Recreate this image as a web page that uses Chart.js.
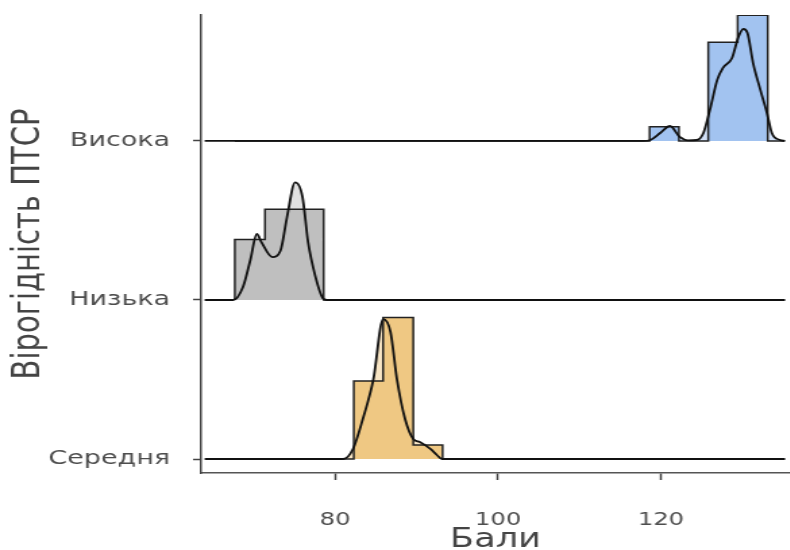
<!DOCTYPE html>
<html>
<head>
<meta charset="utf-8">
<script src="https://cdn.jsdelivr.net/npm/chart.js@4.4.1/dist/chart.umd.min.js"></script>
<style>
  html, body { margin: 0; padding: 0; background: #fff; overflow: hidden; }
  /* the reference is stretched sideways, so the canvas is too */
  #ridges { display: block; transform: scaleX(1.35); transform-origin: 0 0; }
</style>
</head>
<body>
<canvas id="ridges" width="585" height="550"></canvas>
<script>
// groups, bottom to top
var groupLabels = ['Середня', 'Низька', 'Висока'];
var xTicks = [80, 100, 120];

// histograms: bin edges and bar heights (one height per interval)
var highHistEdges = [67.7, 118.6, 122.2, 125.8, 129.4, 133.1, 135.2];
var highHistHeights = [0, 0.09, 0, 0.62, 0.79, 0];
var lowHistEdges = [67.7, 71.4, 78.6, 135.2];
var lowHistHeights = [0.38, 0.57, 0];
var midHistEdges = [67.7, 82.3, 85.9, 89.6, 93.2, 135.2];
var midHistHeights = [0, 0.49, 0.89, 0.088, 0];

// density curves
var highDensX = [64.0, 117.8, 118.7, 119.9, 121.1, 122.3, 123.3, 124.4, 125.2, 126.0, 126.9, 127.6, 128.7, 129.5, 130.1, 130.6, 131.3, 132.2, 133.0, 133.6, 134.6, 135.2];
var highDensY = [0, 0, 0.006, 0.05, 0.094, 0.025, 0.004, 0.006, 0.05, 0.195, 0.384, 0.46, 0.52, 0.654, 0.704, 0.68, 0.49, 0.32, 0.176, 0.05, 0.006, 0];
var lowDensX = [64.0, 67.5, 68.7, 69.6, 70.4, 71.0, 72.3, 73.3, 74.1, 75.1, 76.0, 76.7, 77.6, 78.4, 79.0, 135.2];
var lowDensY = [0, 0, 0.082, 0.25, 0.415, 0.36, 0.27, 0.31, 0.52, 0.74, 0.65, 0.36, 0.145, 0.02, 0, 0];
var midDensX = [64.0, 81.0, 82.2, 83.4, 84.7, 85.9, 86.8, 87.6, 88.6, 89.6, 90.4, 91.7, 92.5, 93.1, 135.2];
var midDensY = [0, 0, 0.063, 0.25, 0.50, 0.88, 0.80, 0.50, 0.25, 0.126, 0.107, 0.063, 0.025, 0, 0];

var barColors = ['#efc883', '#bfbfbf', '#a2c3f0'];
var densColors = ['#f8e5c4', '#e1e1e1', '#d2e1f8'];

function histPoints(edges, heights, base) {
    var pts = [{ x: edges[0], y: base }];
    for (var i = 0; i < heights.length; i++) {
        pts.push({ x: edges[i], y: base + heights[i] });
        pts.push({ x: edges[i + 1], y: base + heights[i] });
    }
    pts.push({ x: edges[edges.length - 1], y: base });
    return pts;
}

function densPoints(xs, ys, base) {
    return xs.map(function (x, i) { return { x: x, y: base + ys[i] }; });
}

var groups = [
    { edges: midHistEdges, heights: midHistHeights, dx: midDensX, dy: midDensY },
    { edges: lowHistEdges, heights: lowHistHeights, dx: lowDensX, dy: lowDensY },
    { edges: highHistEdges, heights: highHistHeights, dx: highDensX, dy: highDensY }
];

var datasets = [];
groups.forEach(function (g, base) {
    // lower ridges are drawn over upper ones
    var o = base * 3;
    datasets.push({
        data: densPoints(g.dx, g.dy, base),
        borderColor: '#111',
        borderWidth: 1.8,
        cubicInterpolationMode: 'monotone',
        fill: false,
        order: o
    });
    datasets.push({
        data: histPoints(g.edges, g.heights, base),
        borderColor: '#222',
        borderWidth: 1.5,
        backgroundColor: barColors[base],
        tension: 0,
        fill: { value: base },
        order: o + 1
    });
    datasets.push({
        data: densPoints(g.dx, g.dy, base),
        borderWidth: 0,
        borderColor: 'rgba(0,0,0,0)',
        backgroundColor: densColors[base],
        cubicInterpolationMode: 'monotone',
        fill: { value: base },
        order: o + 2
    });
});

function noEdgePadding(axis) {
    axis.paddingTop = 0;
    axis.paddingBottom = 0;
    axis.paddingLeft = 0;
    axis.paddingRight = 0;
}

var ctx = document.getElementById('ridges').getContext('2d');
var ridgeChart = new Chart(ctx, {
    type: 'line',
    data: { datasets: datasets },
    options: {
        responsive: false,
        animation: false,
        layout: { padding: { top: 15, right: 0, left: 0, bottom: 0 } },
        elements: { point: { radius: 0 } },
        plugins: {
            legend: { display: false },
            tooltip: { enabled: false }
        },
        scales: {
            x: {
                type: 'linear',
                min: 63.57,
                max: 135.8,
                afterBuildTicks: function (axis) {
                    axis.ticks = xTicks.map(function (v) { return { value: v }; });
                },
                afterFit: function (axis) { axis.height = 77; noEdgePadding(axis); },
                grid: { drawOnChartArea: false, tickLength: 7, tickColor: '#444', tickWidth: 1.5 },
                border: { color: '#555', width: 1.5 },
                ticks: {
                    color: '#4d4d4d',
                    padding: 30,
                    maxRotation: 0,
                    font: { family: 'DejaVu Sans', size: 18 }
                },
                title: {
                    display: true,
                    text: 'Бали',
                    color: '#444',
                    padding: { top: 0, bottom: -3 },
                    font: { family: 'DejaVu Sans', size: 26, lineHeight: 1.0 }
                }
            },
            y: {
                type: 'linear',
                min: -0.088,
                max: 2.792,
                afterBuildTicks: function (axis) {
                    axis.ticks = groupLabels.map(function (l, i) { return { value: i }; });
                },
                afterFit: function (axis) { axis.width = 149; noEdgePadding(axis); },
                grid: { drawOnChartArea: false, tickLength: 6, tickColor: '#444', tickWidth: 1.5 },
                border: { color: '#444', width: 1.5 },
                ticks: {
                    color: '#4d4d4d',
                    padding: 17,
                    font: { family: 'DejaVu Sans', size: 20 },
                    callback: function (v) { return groupLabels[v]; }
                },
                title: {
                    display: true,
                    text: 'Вірогідність ПТСР',
                    color: '#444',
                    padding: { top: 7, bottom: 0 },
                    font: { family: 'DejaVu Sans', size: 29, lineHeight: 1.0 }
                }
            }
        }
    }
});
</script>
</body>
</html>
